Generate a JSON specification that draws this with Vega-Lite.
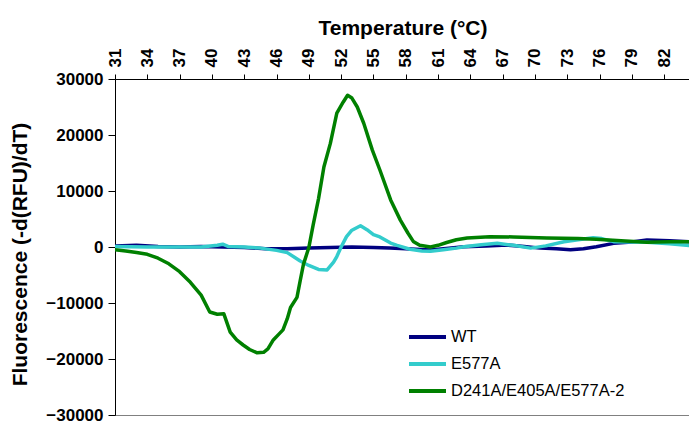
{
  "$schema": "https://vega.github.io/schema/vega-lite/v6.json",
  "width": 575,
  "height": 336,
  "autosize": {"type": "none"},
  "padding": {"left": 115, "top": 79, "right": 0, "bottom": 8},
  "background": "white",
  "config": {
    "view": {"stroke": "#808080", "strokeWidth": 1},
    "font": "Liberation Sans"
  },
  "data": {
    "values": [
      {"s": "WT", "t": 31, "v": 200},
      {"s": "WT", "t": 33, "v": 300},
      {"s": "WT", "t": 35, "v": 100},
      {"s": "WT", "t": 37, "v": 0},
      {"s": "WT", "t": 39, "v": 100},
      {"s": "WT", "t": 41, "v": 0},
      {"s": "WT", "t": 43, "v": -100},
      {"s": "WT", "t": 45, "v": -300},
      {"s": "WT", "t": 47, "v": -300},
      {"s": "WT", "t": 49, "v": -200},
      {"s": "WT", "t": 51, "v": -100},
      {"s": "WT", "t": 53, "v": 0},
      {"s": "WT", "t": 55, "v": -100},
      {"s": "WT", "t": 56.5, "v": -200},
      {"s": "WT", "t": 58, "v": -300},
      {"s": "WT", "t": 60.3, "v": -550},
      {"s": "WT", "t": 62, "v": -200},
      {"s": "WT", "t": 63.4, "v": 50},
      {"s": "WT", "t": 65.5, "v": 200},
      {"s": "WT", "t": 67.4, "v": 350},
      {"s": "WT", "t": 69, "v": 100},
      {"s": "WT", "t": 70.5, "v": -200},
      {"s": "WT", "t": 72, "v": -300},
      {"s": "WT", "t": 73.3, "v": -500},
      {"s": "WT", "t": 74.5, "v": -300},
      {"s": "WT", "t": 75.7, "v": 50},
      {"s": "WT", "t": 77.3, "v": 650},
      {"s": "WT", "t": 79, "v": 900},
      {"s": "WT", "t": 80.4, "v": 1250},
      {"s": "WT", "t": 82.5, "v": 1100},
      {"s": "WT", "t": 84.4, "v": 950},

      {"s": "E577A", "t": 31, "v": 100},
      {"s": "E577A", "t": 34, "v": 0},
      {"s": "E577A", "t": 37, "v": 0},
      {"s": "E577A", "t": 39, "v": 0},
      {"s": "E577A", "t": 40.5, "v": 300},
      {"s": "E577A", "t": 41, "v": 500},
      {"s": "E577A", "t": 41.5, "v": 100},
      {"s": "E577A", "t": 43, "v": 0},
      {"s": "E577A", "t": 44.5, "v": -200},
      {"s": "E577A", "t": 46, "v": -600},
      {"s": "E577A", "t": 47, "v": -1000},
      {"s": "E577A", "t": 48.2, "v": -2500},
      {"s": "E577A", "t": 49, "v": -3300},
      {"s": "E577A", "t": 49.9, "v": -4000},
      {"s": "E577A", "t": 50.7, "v": -4100},
      {"s": "E577A", "t": 51.3, "v": -2700},
      {"s": "E577A", "t": 51.6, "v": -1700},
      {"s": "E577A", "t": 52, "v": 0},
      {"s": "E577A", "t": 52.5, "v": 1850},
      {"s": "E577A", "t": 53, "v": 3000},
      {"s": "E577A", "t": 53.8, "v": 3800},
      {"s": "E577A", "t": 54.4, "v": 3100},
      {"s": "E577A", "t": 55, "v": 2200},
      {"s": "E577A", "t": 55.6, "v": 1800},
      {"s": "E577A", "t": 56.6, "v": 700},
      {"s": "E577A", "t": 57.2, "v": 300},
      {"s": "E577A", "t": 58.4, "v": -400},
      {"s": "E577A", "t": 59.5, "v": -700},
      {"s": "E577A", "t": 60.3, "v": -750},
      {"s": "E577A", "t": 61.5, "v": -500},
      {"s": "E577A", "t": 62.7, "v": -200},
      {"s": "E577A", "t": 63.4, "v": 50},
      {"s": "E577A", "t": 65, "v": 400},
      {"s": "E577A", "t": 66.5, "v": 650},
      {"s": "E577A", "t": 68, "v": 300},
      {"s": "E577A", "t": 69.6, "v": -200},
      {"s": "E577A", "t": 71, "v": 200},
      {"s": "E577A", "t": 72.7, "v": 950},
      {"s": "E577A", "t": 74, "v": 1300},
      {"s": "E577A", "t": 75.4, "v": 1650},
      {"s": "E577A", "t": 76.2, "v": 1500},
      {"s": "E577A", "t": 77.3, "v": 950},
      {"s": "E577A", "t": 79, "v": 900},
      {"s": "E577A", "t": 80.4, "v": 850},
      {"s": "E577A", "t": 82.5, "v": 600},
      {"s": "E577A", "t": 84.4, "v": 250},

      {"s": "D241A/E405A/E577A-2", "t": 31, "v": -500},
      {"s": "D241A/E405A/E577A-2", "t": 32, "v": -700},
      {"s": "D241A/E405A/E577A-2", "t": 33, "v": -1000},
      {"s": "D241A/E405A/E577A-2", "t": 34, "v": -1300},
      {"s": "D241A/E405A/E577A-2", "t": 35, "v": -2000},
      {"s": "D241A/E405A/E577A-2", "t": 36, "v": -3000},
      {"s": "D241A/E405A/E577A-2", "t": 37, "v": -4400},
      {"s": "D241A/E405A/E577A-2", "t": 38, "v": -6300},
      {"s": "D241A/E405A/E577A-2", "t": 39, "v": -8600},
      {"s": "D241A/E405A/E577A-2", "t": 39.8, "v": -11600},
      {"s": "D241A/E405A/E577A-2", "t": 40.5, "v": -12000},
      {"s": "D241A/E405A/E577A-2", "t": 41.1, "v": -11900},
      {"s": "D241A/E405A/E577A-2", "t": 41.7, "v": -15200},
      {"s": "D241A/E405A/E577A-2", "t": 42.3, "v": -16600},
      {"s": "D241A/E405A/E577A-2", "t": 42.9, "v": -17500},
      {"s": "D241A/E405A/E577A-2", "t": 43.5, "v": -18300},
      {"s": "D241A/E405A/E577A-2", "t": 44.2, "v": -18900},
      {"s": "D241A/E405A/E577A-2", "t": 44.8, "v": -18800},
      {"s": "D241A/E405A/E577A-2", "t": 45.2, "v": -18200},
      {"s": "D241A/E405A/E577A-2", "t": 45.7, "v": -16600},
      {"s": "D241A/E405A/E577A-2", "t": 46.2, "v": -15600},
      {"s": "D241A/E405A/E577A-2", "t": 46.6, "v": -14800},
      {"s": "D241A/E405A/E577A-2", "t": 47, "v": -12800},
      {"s": "D241A/E405A/E577A-2", "t": 47.3, "v": -10800},
      {"s": "D241A/E405A/E577A-2", "t": 47.9, "v": -9000},
      {"s": "D241A/E405A/E577A-2", "t": 48.2, "v": -6000},
      {"s": "D241A/E405A/E577A-2", "t": 48.5, "v": -3100},
      {"s": "D241A/E405A/E577A-2", "t": 49, "v": -100},
      {"s": "D241A/E405A/E577A-2", "t": 49.4, "v": 3900},
      {"s": "D241A/E405A/E577A-2", "t": 49.9, "v": 8600},
      {"s": "D241A/E405A/E577A-2", "t": 50.4, "v": 14300},
      {"s": "D241A/E405A/E577A-2", "t": 51, "v": 18500},
      {"s": "D241A/E405A/E577A-2", "t": 51.6, "v": 23900},
      {"s": "D241A/E405A/E577A-2", "t": 52.2, "v": 25900},
      {"s": "D241A/E405A/E577A-2", "t": 52.6, "v": 27100},
      {"s": "D241A/E405A/E577A-2", "t": 53, "v": 26600},
      {"s": "D241A/E405A/E577A-2", "t": 53.5, "v": 25000},
      {"s": "D241A/E405A/E577A-2", "t": 54.1, "v": 22100},
      {"s": "D241A/E405A/E577A-2", "t": 54.9, "v": 17300},
      {"s": "D241A/E405A/E577A-2", "t": 55.6, "v": 13750},
      {"s": "D241A/E405A/E577A-2", "t": 56.6, "v": 8400},
      {"s": "D241A/E405A/E577A-2", "t": 57.5, "v": 4800},
      {"s": "D241A/E405A/E577A-2", "t": 58.2, "v": 2500},
      {"s": "D241A/E405A/E577A-2", "t": 58.7, "v": 1000},
      {"s": "D241A/E405A/E577A-2", "t": 59.3, "v": 300},
      {"s": "D241A/E405A/E577A-2", "t": 60.3, "v": 0},
      {"s": "D241A/E405A/E577A-2", "t": 61, "v": 300},
      {"s": "D241A/E405A/E577A-2", "t": 61.8, "v": 800},
      {"s": "D241A/E405A/E577A-2", "t": 62.7, "v": 1300},
      {"s": "D241A/E405A/E577A-2", "t": 63.7, "v": 1600},
      {"s": "D241A/E405A/E577A-2", "t": 65.8, "v": 1850},
      {"s": "D241A/E405A/E577A-2", "t": 68, "v": 1800},
      {"s": "D241A/E405A/E577A-2", "t": 71.1, "v": 1600},
      {"s": "D241A/E405A/E577A-2", "t": 74, "v": 1500},
      {"s": "D241A/E405A/E577A-2", "t": 75.7, "v": 1400},
      {"s": "D241A/E405A/E577A-2", "t": 78, "v": 1100},
      {"s": "D241A/E405A/E577A-2", "t": 80.4, "v": 850},
      {"s": "D241A/E405A/E577A-2", "t": 82.5, "v": 950},
      {"s": "D241A/E405A/E577A-2", "t": 84.4, "v": 950}
    ]
  },
  "mark": {"type": "line", "strokeWidth": 3.5, "clip": true, "strokeJoin": "round"},
  "encoding": {
    "x": {
      "field": "t",
      "type": "quantitative",
      "scale": {"domain": [31, 84.4], "nice": false, "zero": false},
      "axis": {
        "orient": "top",
        "title": "Temperature (°C)",
        "titleFont": "Liberation Sans",
        "titleFontSize": 21,
        "titleFontWeight": "bold",
        "titleColor": "black",
        "titlePadding": 10,
        "values": [31, 34, 37, 40, 43, 46, 49, 52, 55, 58, 61, 64, 67, 70, 73, 76, 79, 82],
        "labelAngle": 270,
        "labelAlign": "left",
        "labelBaseline": "middle",
        "labelFont": "Liberation Sans",
        "labelFontSize": 17,
        "labelFontWeight": "bold",
        "labelColor": "black",
        "labelPadding": 7,
        "labelOverlap": false,
        "labelFlush": false,
        "tickSize": 5,
        "tickColor": "black",
        "domainColor": "black",
        "grid": false
      }
    },
    "y": {
      "field": "v",
      "type": "quantitative",
      "scale": {"domain": [-30000, 30000], "nice": false},
      "axis": {
        "title": "Fluorescence (-d(RFU)/dT)",
        "titleFont": "Liberation Sans",
        "titleFontSize": 21,
        "titleFontWeight": "bold",
        "titleColor": "black",
        "titlePadding": 15,
        "titleY": 175,
        "values": [-30000, -20000, -10000, 0, 10000, 20000, 30000],
        "format": "d",
        "labelFont": "Liberation Sans",
        "labelFontSize": 17,
        "labelFontWeight": "bold",
        "labelColor": "black",
        "labelPadding": 5,
        "labelOverlap": false,
        "labelFlush": false,
        "tickSize": 7,
        "tickColor": "black",
        "domainColor": "black",
        "grid": false
      }
    },
    "color": {
      "field": "s",
      "type": "nominal",
      "sort": null,
      "scale": {
        "domain": ["WT", "E577A", "D241A/E405A/E577A-2"],
        "range": ["#000080", "#33CCCC", "#008000"]
      },
      "legend": {
        "title": null,
        "orient": "none",
        "legendX": 292,
        "legendY": 247,
        "padding": 0,
        "symbolType": "stroke",
        "symbolSize": 1369,
        "symbolStrokeWidth": 4,
        "clipHeight": 22,
        "rowPadding": 5,
        "labelOffset": 3,
        "labelFont": "Liberation Sans",
        "labelFontSize": 16.5,
        "labelColor": "black",
        "labelLimit": 300
      }
    }
  }
}
